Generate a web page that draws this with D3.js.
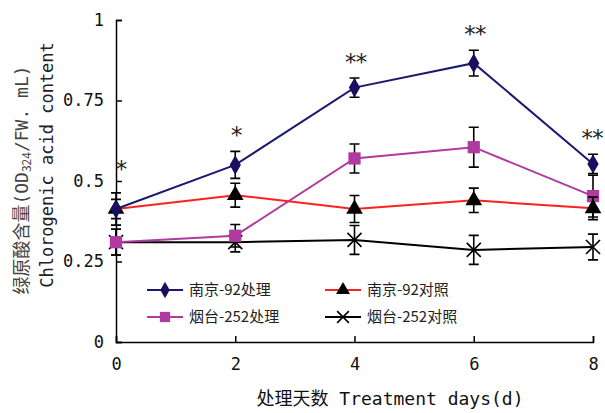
<!DOCTYPE html>
<html><head><meta charset="utf-8">
<script src="https://cdn.jsdelivr.net/npm/d3@7/dist/d3.min.js"></script>
<style>
body{margin:0;background:#fff;}
text{font-family:"DejaVu Sans Mono","Noto Sans CJK SC",monospace;}
.cjk{font-family:"Noto Sans CJK SC","DejaVu Sans Mono",sans-serif;}
</style></head>
<body>
<svg id="c" width="605" height="413"></svg>
<script>
const days = [0, 2, 4, 6, 8];
const xTicks = [0, 2, 4, 6, 8];
const yTicks = [0, 0.25, 0.5, 0.75, 1];
const yTickLabels = ["0", "0.25", "0.5", "0.75", "1"];
const seriesNames = ["南京-92处理", "南京-92对照", "烟台-252处理", "烟台-252对照"];
const nj92T = [0.413, 0.55, 0.79, 0.866, 0.553];
const nj92TErr = [0.03, 0.042, 0.03, 0.04, 0.03];
const nj92C = [0.413, 0.456, 0.413, 0.44, 0.415];
const nj92CErr = [0.05, 0.037, 0.042, 0.038, 0.035];
const yt252T = [0.31, 0.33, 0.57, 0.605, 0.453];
const yt252TErr = [0.04, 0.035, 0.045, 0.062, 0.065];
const yt252C = [0.31, 0.31, 0.317, 0.286, 0.295];
const yt252CErr = [0.04, 0.03, 0.045, 0.045, 0.04];
const signif = ["*", "*", "**", "**", "**"];

const svg = d3.select("#c");
const x = d3.scaleLinear().domain([0, 8]).range([116, 593]);
const y = d3.scaleLinear().domain([0, 1]).range([342, 20]);

// axes
const gx = svg.append("g").attr("transform", `translate(0,${y(0)})`)
  .call(d3.axisBottom(x).tickValues(xTicks).tickSize(-6).tickPadding(16).tickFormat(d3.format("d")));
const gy = svg.append("g").attr("transform", `translate(${x(0)},0)`)
  .call(d3.axisLeft(y).tickValues(yTicks).tickSize(-6).tickPadding(12).tickFormat((d,i)=>yTickLabels[i]));
[gx, gy].forEach(g => {
  g.select(".domain").attr("stroke", "#000").attr("stroke-width", 1.5);
  g.selectAll(".tick line").attr("stroke", "#000").attr("stroke-width", 1.5);
  g.selectAll(".tick text").attr("fill", "#111").style("font-size", "17px")
    .style("font-family", "'DejaVu Sans Mono',monospace");
});
gx.selectAll(".tick text").attr("dy", "0.71em");

const series = [
  {name: seriesNames[0], v: nj92T, e: nj92TErr, color: "#1a1a6e", marker: "diamond"},
  {name: seriesNames[1], v: nj92C, e: nj92CErr, color: "#ff2020", marker: "triangle"},
  {name: seriesNames[2], v: yt252T, e: yt252TErr, color: "#b03aa0", marker: "square"},
  {name: seriesNames[3], v: yt252C, e: yt252CErr, color: "#000000", marker: "x"}
];

function drawMarker(g, type, cx, cy, col, s) {
  s = s || 1;
  if (type === "diamond") {
    g.append("path").attr("d", d3.symbol(d3.symbolDiamond, 110*s)())
      .attr("transform", `translate(${cx},${cy}) scale(1,1)`).attr("fill", "#1a0f5e");
  } else if (type === "triangle") {
    g.append("path").attr("d", d3.symbol(d3.symbolTriangle, 120*s)())
      .attr("transform", `translate(${cx},${cy})`).attr("fill", "#000");
  } else if (type === "square") {
    g.append("path").attr("d", d3.symbol(d3.symbolSquare, 150*s)())
      .attr("transform", `translate(${cx},${cy})`).attr("fill", "#b03aa0");
  } else {
    const r = 7*Math.sqrt(s);
    g.append("path").attr("d", `M${cx-r},${cy-r}L${cx+r},${cy+r}M${cx-r},${cy+r}L${cx+r},${cy-r}`)
      .attr("stroke", "#000").attr("stroke-width", 1.6).attr("fill", "none");
  }
}

const line = d3.line().x((d,i)=>x(days[i])).y(d=>y(d));
// draw order: black X, magenta, red, navy
const order = [3, 2, 1, 0];
order.forEach(k => {
  const s = series[k];
  const g = svg.append("g");
  g.append("path").datum(s.v).attr("d", line).attr("fill", "none")
    .attr("stroke", s.color).attr("stroke-width", 2);
  s.v.forEach((v,i) => {
    const cx = x(days[i]);
    const t = y(v + s.e[i]), b = y(v - s.e[i]);
    g.append("path").attr("d", `M${cx},${t}L${cx},${b}M${cx-5},${t}L${cx+5},${t}M${cx-5},${b}L${cx+5},${b}`)
      .attr("stroke", "#000").attr("stroke-width", 1.6).attr("fill", "none");
  });
  s.v.forEach((v,i) => drawMarker(g, s.marker, x(days[i]), y(v), s.color));
});

// significance
signif.forEach((t,i) => {
  svg.append("text").attr("x", x(days[i]) + (i===0?4:(i===4?-2:0)))
    .attr("y", y(nj92T[i] + nj92TErr[i]) - (i===0?22:8))
    .attr("text-anchor", "middle").style("font-size", "23px").style("letter-spacing", "-3px")
    .attr("fill", "#222").text(t);
});

// legend
const leg = [
  {s: series[0], lx: 147, ly: 290},
  {s: series[1], lx: 325, ly: 290},
  {s: series[2], lx: 147, ly: 317},
  {s: series[3], lx: 325, ly: 317}
];
leg.forEach(L => {
  const g = svg.append("g");
  g.append("line").attr("x1", L.lx).attr("x2", L.lx+36).attr("y1", L.ly).attr("y2", L.ly)
    .attr("stroke", L.s.color).attr("stroke-width", 2);
  drawMarker(g, L.s.marker, L.lx+18, L.ly, L.s.color, 0.7);
  g.append("text").attr("class", "cjk").attr("x", L.lx+42).attr("y", L.ly).attr("dy", "0.35em")
    .style("font-size", "15px").attr("fill", "#222").text(L.s.name);
});

// axis titles
svg.append("text").attr("x", 390).attr("y", 405).attr("text-anchor", "middle").attr("fill", "#111")
  .style("font-size", "18px")
  .html('<tspan class="cjk">处理天数</tspan><tspan> Treatment days(d)</tspan>');

const yl = svg.append("text").attr("transform", "translate(28,180) rotate(-90)")
  .attr("text-anchor", "middle").attr("fill", "#444").style("font-size", "18px");
yl.append("tspan").attr("class", "cjk").text("绿原酸含量");
yl.append("tspan").text("(OD");
yl.append("tspan").attr("class","cjk").style("font-size", "12px").attr("dy", 3).text("324");
yl.append("tspan").attr("dy", -3).text("/FW. mL)");

svg.append("text").attr("transform", "translate(53,165) rotate(-90)")
  .attr("text-anchor", "middle").attr("fill", "#222").style("font-size", "17px")
  .text("Chlorogenic acid content");
</script>
</body></html>
